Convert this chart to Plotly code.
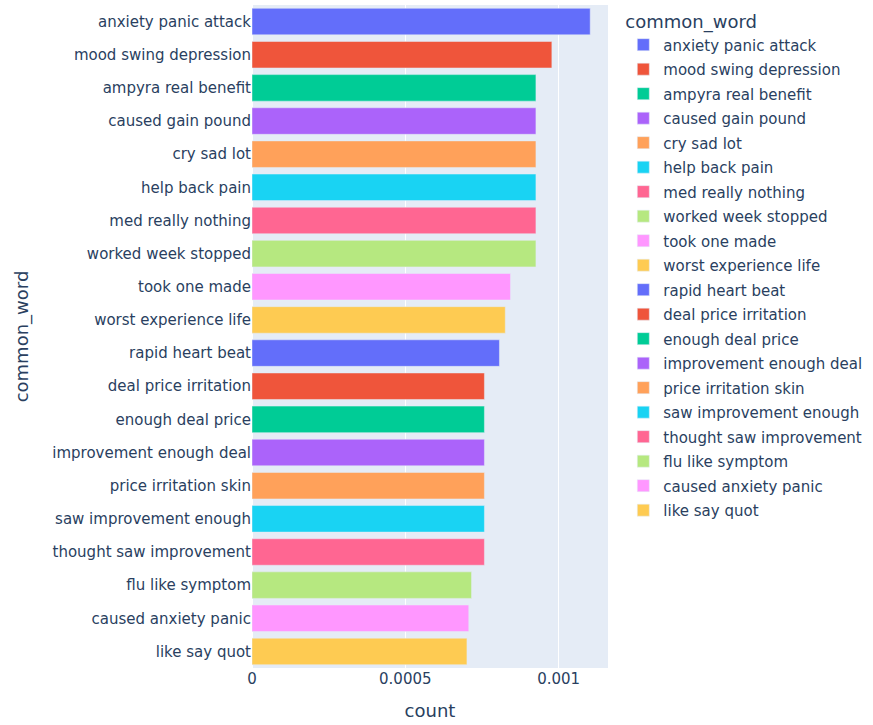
import plotly.graph_objects as go

categories = [
    "anxiety panic attack", "mood swing depression", "ampyra real benefit",
    "caused gain pound", "cry sad lot", "help back pain", "med really nothing",
    "worked week stopped", "took one made", "worst experience life",
    "rapid heart beat", "deal price irritation", "enough deal price",
    "improvement enough deal", "price irritation skin", "saw improvement enough",
    "thought saw improvement", "flu like symptom", "caused anxiety panic",
    "like say quot",
]
counts = [
    0.001103, 0.000978, 0.000926, 0.000926, 0.000926, 0.000926, 0.000926,
    0.000926, 0.000843, 0.000826, 0.000807, 0.000758, 0.000758, 0.000758,
    0.000758, 0.000758, 0.000758, 0.000716, 0.000707, 0.000701,
]
palette = ["#636efa", "#EF553B", "#00cc96", "#ab63fa", "#FFA15A",
           "#19d3f3", "#FF6692", "#B6E880", "#FF97FF", "#FECB52"]

fig = go.Figure()
for i, (c, v) in enumerate(zip(categories, counts)):
    fig.add_trace(go.Bar(
        x=[v], y=[c], name=c, orientation="h",
        marker=dict(color=palette[i % len(palette)]),
        legendgroup=c, showlegend=True,
    ))

fig.update_layout(
    template="plotly",
    width=873, height=725,
    barmode="relative",
    font=dict(family="DejaVu Sans", size=15, color="#2a3f5f"),
    margin=dict(l=252, r=265, t=5, b=57, autoexpand=False),
    legend=dict(title=dict(text="common_word"), tracegroupgap=2,
                x=1.043, y=1, yanchor="top"),
    xaxis=dict(title=dict(text="count", standoff=17), tickvals=[0, 0.0005, 0.001],
               ticktext=["0", "0.0005", "0.001"], automargin=False),
    yaxis=dict(title=dict(text="common_word", standoff=18), autorange="reversed",
               categoryorder="array", categoryarray=categories,
               automargin=False),
)
fig.write_html("out.html", config={"displayModeBar": False},
               post_script="document.body.style.margin='0';")
